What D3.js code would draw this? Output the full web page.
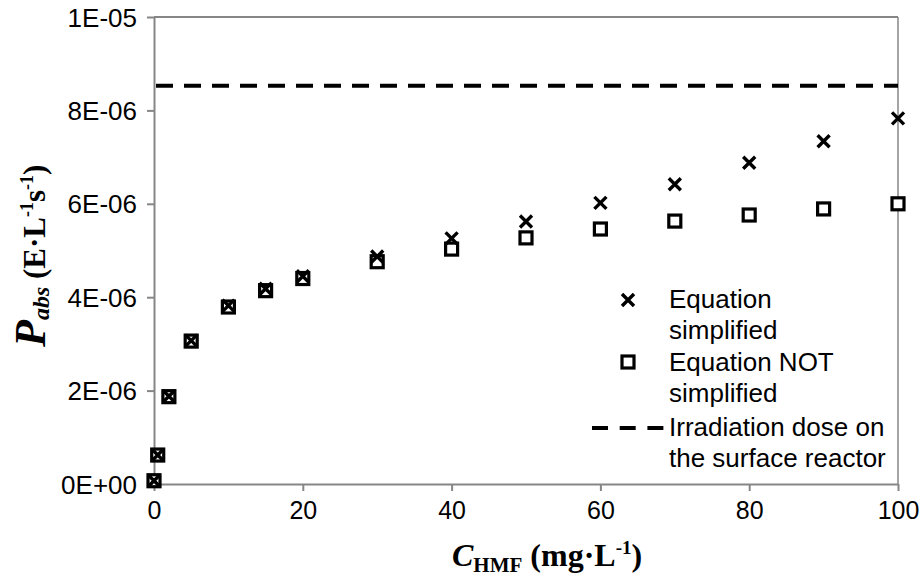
<!DOCTYPE html>
<html>
<head>
<meta charset="utf-8">
<script src="https://cdn.jsdelivr.net/npm/d3@7"></script>
<style>
  html, body { margin: 0; padding: 0; background: #fff; }
  svg { display: block; }
</style>
</head>
<body>
<svg id="chart" width="922" height="579"></svg>
<script>
// HMF concentration (mg/L)
const concentrations = [0, 0.5, 2, 5, 10, 15, 20, 30, 40, 50, 60, 70, 80, 90, 100];
// Absorbed photon flux, simplified equation (E L^-1 s^-1)
const pabsSimplified = [0.07e-6, 0.62e-6, 1.88e-6, 3.07e-6, 3.82e-6, 4.18e-6, 4.45e-6, 4.87e-6, 5.26e-6, 5.62e-6, 6.02e-6, 6.42e-6, 6.88e-6, 7.34e-6, 7.83e-6];
// Absorbed photon flux, full (not simplified) equation
const pabsNotSimplified = [0.07e-6, 0.62e-6, 1.87e-6, 3.06e-6, 3.79e-6, 4.14e-6, 4.40e-6, 4.76e-6, 5.03e-6, 5.27e-6, 5.46e-6, 5.63e-6, 5.76e-6, 5.89e-6, 6.00e-6];
// Irradiation dose reaching the reactor surface
const irradiationDose = 8.53e-6;

const xTicks = [0, 20, 40, 60, 80, 100];
const yTicks = [0, 2e-6, 4e-6, 6e-6, 8e-6, 1e-5];
const yTickLabels = ["0E+00", "2E-06", "4E-06", "6E-06", "8E-06", "1E-05"];

const legendLabels = [
  ["Equation", "simplified"],
  ["Equation NOT", "simplified"],
  ["Irradiation dose on", "the surface reactor"]
];

const svg = d3.select("#chart");
const plotLeft = 154, plotRight = 898, plotTop = 17, plotBottom = 484;
const axisColor = "#868686";
const sansFont = "'Liberation Sans', Arial, sans-serif";
const serifFont = "'Liberation Serif', 'Times New Roman', serif";

const x = d3.scaleLinear().domain([0, 100]).range([plotLeft, plotRight]);
const y = d3.scaleLinear().domain([0, 1e-5]).range([plotBottom, plotTop]);

// Plot frame (top and right edges)
svg.append("line").attr("x1", plotLeft).attr("x2", plotRight).attr("y1", plotTop).attr("y2", plotTop)
  .attr("stroke", axisColor).attr("stroke-width", 2);
svg.append("line").attr("x1", plotRight).attr("x2", plotRight).attr("y1", plotTop).attr("y2", plotBottom)
  .attr("stroke", axisColor).attr("stroke-width", 1.5);

// Axes
const xAxis = svg.append("g").attr("transform", `translate(0,${plotBottom})`)
  .call(d3.axisBottom(x).tickValues(xTicks).tickSize(7).tickSizeOuter(0).tickPadding(10));
const yAxis = svg.append("g").attr("transform", `translate(${plotLeft},0)`)
  .call(d3.axisLeft(y).tickValues(yTicks).tickSize(7).tickSizeOuter(0).tickPadding(10)
    .tickFormat((d, i) => yTickLabels[i]));

[xAxis, yAxis].forEach(g => {
  g.select(".domain").attr("stroke", axisColor).attr("stroke-width", 2);
  g.selectAll(".tick line").attr("stroke", axisColor).attr("stroke-width", 2);
  g.selectAll(".tick text").attr("fill", "#000").attr("font-family", sansFont);
});
xAxis.selectAll(".tick text").attr("font-size", 25).attr("dy", "0.71em");
yAxis.selectAll(".tick text").attr("font-size", 26).attr("dy", "0.35em");

// Irradiation dose reference line
svg.append("line")
  .attr("x1", x(0) + 2).attr("x2", x(100))
  .attr("y1", y(irradiationDose)).attr("y2", y(irradiationDose))
  .attr("stroke", "#000").attr("stroke-width", 4).attr("stroke-dasharray", "17,11");

// Marker helpers
function drawSquare(sel) {
  sel.append("rect").attr("x", -6).attr("y", -6).attr("width", 12).attr("height", 12)
    .attr("fill", "#fff").attr("stroke", "#000").attr("stroke-width", 3.2);
}
function drawCross(sel) {
  sel.append("path").attr("d", "M-6,-6L6,6M-6,6L6,-6")
    .attr("stroke", "#000").attr("stroke-width", 3.4).attr("fill", "none");
}

// Not-simplified series (squares)
svg.append("g").selectAll("g")
  .data(concentrations.map((c, i) => [c, pabsNotSimplified[i]]))
  .join("g")
  .attr("transform", d => `translate(${x(d[0])},${y(d[1])})`)
  .each(function () { drawSquare(d3.select(this)); });

// Simplified series (crosses)
svg.append("g").selectAll("g")
  .data(concentrations.map((c, i) => [c, pabsSimplified[i]]))
  .join("g")
  .attr("transform", d => `translate(${x(d[0])},${y(d[1])})`)
  .each(function () { drawCross(d3.select(this)); });

// Legend
const legend = svg.append("g");
const legendTextX = 669;
const entryBaselines = [308, 371, 436];
const lineGap = 31;
drawCross(legend.append("g").attr("transform", "translate(628,300)"));
drawSquare(legend.append("g").attr("transform", "translate(628,362)"));
legend.append("line").attr("x1", 592).attr("x2", 664).attr("y1", 428).attr("y2", 428)
  .attr("stroke", "#000").attr("stroke-width", 4).attr("stroke-dasharray", "16,11.7");
legendLabels.forEach((lines, i) => {
  lines.forEach((t, j) => {
    legend.append("text").attr("x", legendTextX).attr("y", entryBaselines[i] + j * lineGap)
      .attr("font-family", sansFont).attr("font-size", 26).attr("fill", "#000").text(t);
  });
});

// X axis title: C_HMF (mg·L^-1)
const xTitle = svg.append("text").attr("x", 452).attr("y", 566)
  .attr("font-family", serifFont).attr("font-weight", "bold").attr("font-size", 32).attr("fill", "#000");
xTitle.append("tspan").attr("font-style", "italic").text("C");
xTitle.append("tspan").attr("font-size", 21).attr("dy", 6).text("HMF");
xTitle.append("tspan").attr("dy", -6).text(" (mg·L");
xTitle.append("tspan").attr("font-size", 19).attr("dy", -12).text("-1");
xTitle.append("tspan").attr("dy", 12).text(")");

// Y axis title: P_abs (E·L^-1 s^-1)
const yTitle = svg.append("text")
  .attr("transform", "translate(45,347) rotate(-90)")
  .attr("font-family", serifFont).attr("font-weight", "bold").attr("font-size", 31).attr("fill", "#000");
yTitle.append("tspan").attr("font-style", "italic").attr("font-size", 44).text("P");
yTitle.append("tspan").attr("font-style", "italic").attr("font-size", 24).attr("dy", 4).text("abs");
yTitle.append("tspan").attr("dy", -4).text(" (E·L");
yTitle.append("tspan").attr("font-size", 18).attr("dy", -12).text("-1");
yTitle.append("tspan").attr("dy", 12).text("s");
yTitle.append("tspan").attr("font-size", 18).attr("dy", -12).text("-1");
yTitle.append("tspan").attr("dy", 12).text(")");
</script>
</body>
</html>
